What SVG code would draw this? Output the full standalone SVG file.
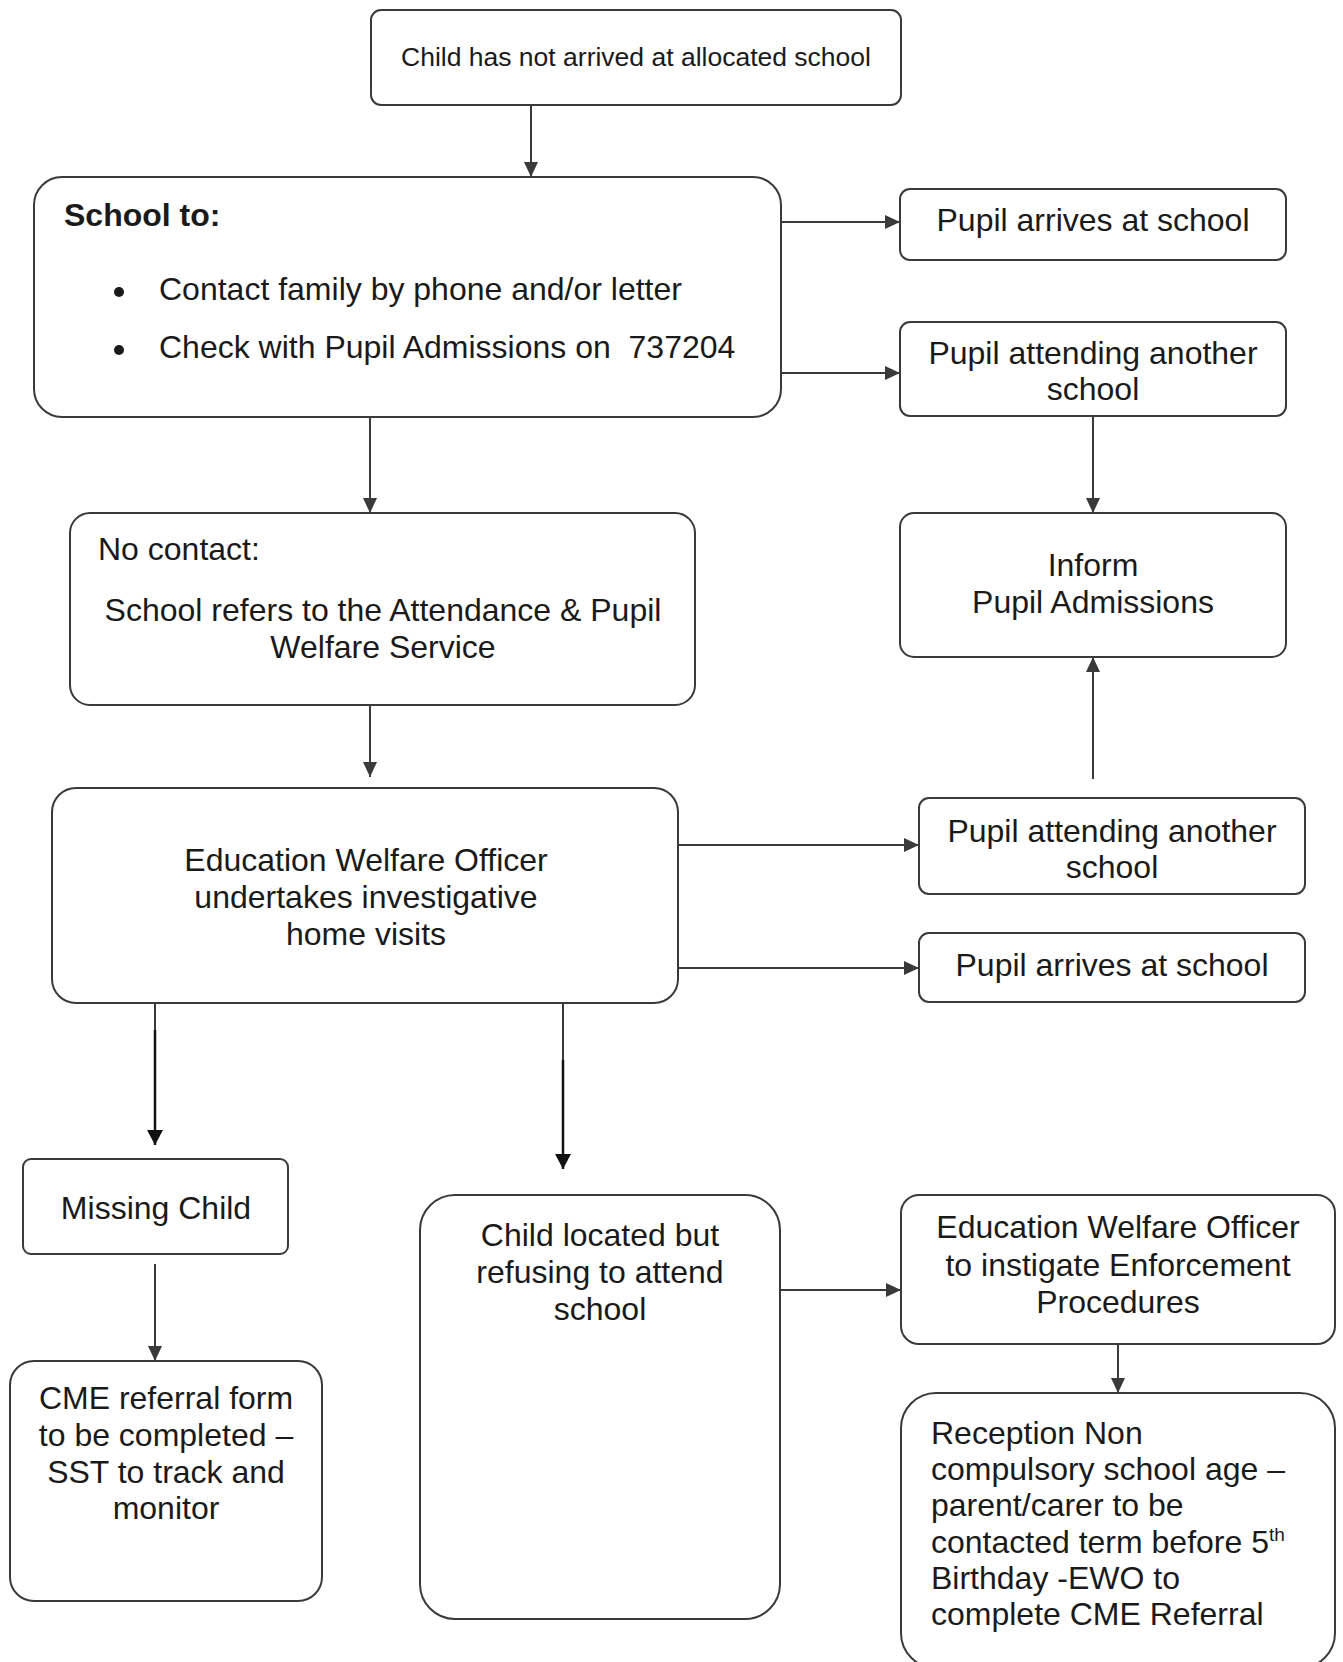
<svg xmlns="http://www.w3.org/2000/svg" width="1343" height="1662" viewBox="0 0 1343 1662">
<style>
.box{fill:#fff;stroke:#3a3a3a;stroke-width:2}
.t{font-family:"Liberation Sans",Arial,sans-serif;font-size:32px;fill:#1a1a1a}
.c{text-anchor:middle}
.con{stroke:#3a3a3a;stroke-width:2;fill:none}
.dk{stroke:#111;stroke-width:2.5;fill:none}
</style>
<defs>
<marker id="ah" markerUnits="userSpaceOnUse" markerWidth="16" markerHeight="14" refX="15" refY="7" orient="auto">
<path d="M0,0 L15,7 L0,14 z" fill="#3a3a3a"/>
</marker>
<marker id="ahk" markerUnits="userSpaceOnUse" markerWidth="16" markerHeight="16" refX="15" refY="8" orient="auto">
<path d="M0,0 L15,8 L0,16 z" fill="#111"/>
</marker>
</defs>
<rect width="1343" height="1662" fill="#fff"/>
<g id="connectors">
<path class="con" d="M531,105 V177" marker-end="url(#ah)"/>
<path class="con" d="M781,222 H900" marker-end="url(#ah)"/>
<path class="con" d="M781,373 H900" marker-end="url(#ah)"/>
<path class="con" d="M370,417 V513" marker-end="url(#ah)"/>
<path class="con" d="M1093,416 V513" marker-end="url(#ah)"/>
<path class="con" d="M370,705 V777" marker-end="url(#ah)"/>
<path class="con" d="M1093,779 V657" marker-end="url(#ah)"/>
<path class="con" d="M678,845 H919" marker-end="url(#ah)"/>
<path class="con" d="M678,968 H919" marker-end="url(#ah)"/>
<path class="con" d="M155,1003 V1030"/>
<path class="dk" d="M155,1030 V1145" marker-end="url(#ahk)"/>
<path class="con" d="M563,1003 V1060"/>
<path class="dk" d="M563,1060 V1169" marker-end="url(#ahk)"/>
<path class="con" d="M155,1264 V1361" marker-end="url(#ah)"/>
<path class="con" d="M780,1290 H901" marker-end="url(#ah)"/>
<path class="con" d="M1118,1344 V1393" marker-end="url(#ah)"/>
</g>
<g id="n-start">
<rect class="box" x="371" y="10" width="530" height="95" rx="10"/>
<text class="t c" x="636" y="66" style="font-size:26.5px">Child has not arrived at allocated school</text>
</g>
<g id="n-school">
<rect class="box" x="34" y="177" width="747" height="240" rx="28"/>
<text class="t" x="64" y="226" font-weight="bold">School to:</text>
<circle cx="119" cy="292" r="5" fill="#1a1a1a"/>
<text class="t" x="159" y="300">Contact family by phone and/or letter</text>
<circle cx="119" cy="350" r="5" fill="#1a1a1a"/>
<text class="t" x="159" y="358" xml:space="preserve">Check with Pupil Admissions on  737204</text>
</g>
<g id="n-arrives1">
<rect class="box" x="900" y="189" width="386" height="71" rx="10"/>
<text class="t c" x="1093" y="231">Pupil arrives at school</text>
</g>
<g id="n-another1">
<rect class="box" x="900" y="322" width="386" height="94" rx="10"/>
<text class="t c" x="1093" y="364">Pupil attending another</text>
<text class="t c" x="1093" y="400">school</text>
</g>
<g id="n-inform">
<rect class="box" x="900" y="513" width="386" height="144" rx="14"/>
<text class="t c" x="1093" y="576">Inform</text>
<text class="t c" x="1093" y="613">Pupil Admissions</text>
</g>
<g id="n-nocontact">
<rect class="box" x="70" y="513" width="625" height="192" rx="20"/>
<text class="t" x="98" y="560">No contact:</text>
<text class="t c" x="383" y="621">School refers to the Attendance &amp; Pupil</text>
<text class="t c" x="383" y="658">Welfare Service</text>
</g>
<g id="n-ewo">
<rect class="box" x="52" y="788" width="626" height="215" rx="24"/>
<text class="t c" x="366" y="871">Education Welfare Officer</text>
<text class="t c" x="366" y="908">undertakes investigative</text>
<text class="t c" x="366" y="945">home visits</text>
</g>
<g id="n-another2">
<rect class="box" x="919" y="798" width="386" height="96" rx="10"/>
<text class="t c" x="1112" y="842">Pupil attending another</text>
<text class="t c" x="1112" y="878">school</text>
</g>
<g id="n-arrives2">
<rect class="box" x="919" y="933" width="386" height="69" rx="10"/>
<text class="t c" x="1112" y="976">Pupil arrives at school</text>
</g>
<g id="n-missing">
<rect class="box" x="23" y="1159" width="265" height="95" rx="8"/>
<text class="t c" x="156" y="1219">Missing Child</text>
</g>
<g id="n-cme">
<rect class="box" x="10" y="1361" width="312" height="240" rx="24"/>
<text class="t c" x="166" y="1409">CME referral form</text>
<text class="t c" x="166" y="1446">to be completed –</text>
<text class="t c" x="166" y="1483">SST to track and</text>
<text class="t c" x="166" y="1519">monitor</text>
</g>
<g id="n-located">
<rect class="box" x="420" y="1195" width="360" height="424" rx="35"/>
<text class="t c" x="600" y="1246">Child located but</text>
<text class="t c" x="600" y="1283">refusing to attend</text>
<text class="t c" x="600" y="1320">school</text>
</g>
<g id="n-enforce">
<rect class="box" x="901" y="1195" width="434" height="149" rx="18"/>
<text class="t c" x="1118" y="1238">Education Welfare Officer</text>
<text class="t c" x="1118" y="1276">to instigate Enforcement</text>
<text class="t c" x="1118" y="1313">Procedures</text>
</g>
<g id="n-reception">
<rect class="box" x="901" y="1393" width="434" height="275" rx="35"/>
<text class="t" x="931" y="1444">Reception Non</text>
<text class="t" x="931" y="1480">compulsory school age –</text>
<text class="t" x="931" y="1516">parent/carer to be</text>
<text class="t" x="931" y="1553">contacted term before 5<tspan dy="-12" style="font-size:19px">th</tspan></text>
<text class="t" x="931" y="1589">Birthday -EWO to</text>
<text class="t" x="931" y="1625">complete CME Referral</text>
</g>
</svg>
